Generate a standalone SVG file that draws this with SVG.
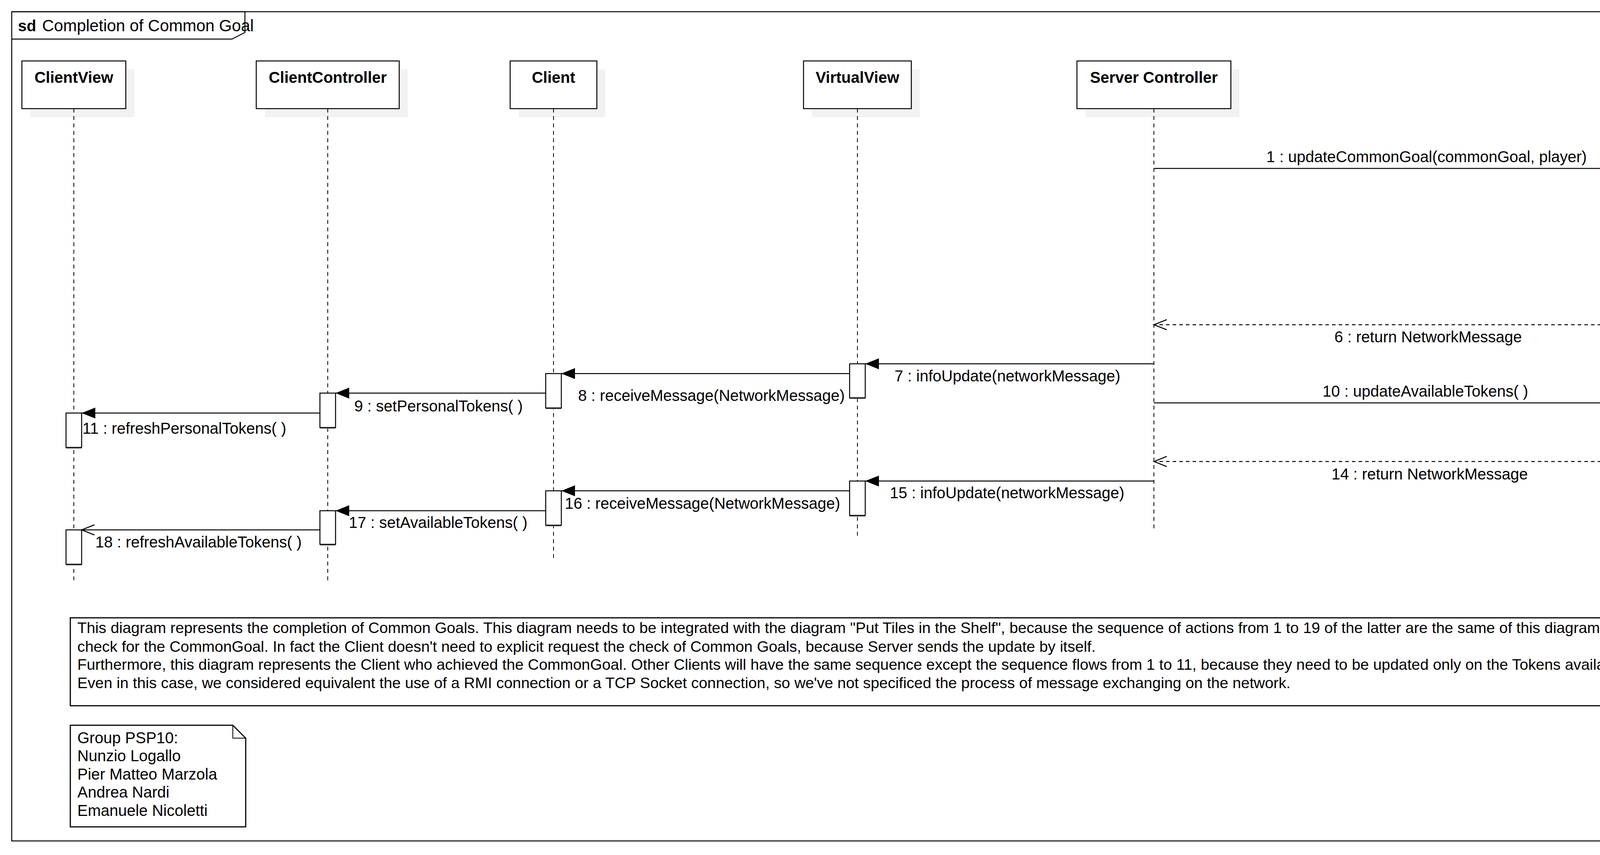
<svg xmlns="http://www.w3.org/2000/svg" width="6763" height="2188" viewBox="0 0 6763 2188">
<style>
text{font-family:"Liberation Sans",Arial,Helvetica,sans-serif;font-size:40px;fill:#000}
.b{font-weight:bold}
.m{text-anchor:middle}
.d{font-size:39.3px}
.head{fill:#fff;stroke:#000;stroke-width:2.5}
.shadow{fill:#f2f2f2;stroke:none}
.life{stroke:#000;stroke-width:2;stroke-dasharray:10 9;fill:none}
.act{fill:#fff;stroke:#000;stroke-width:2.5}
.actsh{fill:#777;stroke:none}
.call{stroke:#000;stroke-width:2.5;fill:none;marker-end:url(#filled)}
.ret{stroke:#000;stroke-width:2.5;fill:none;stroke-dasharray:9 8;marker-end:url(#open)}
.async{stroke:#000;stroke-width:2.5;fill:none;marker-end:url(#open)}
.box{fill:#fff;stroke:#000;stroke-width:3}
</style>
<defs>
<marker id="filled" markerUnits="userSpaceOnUse" viewBox="0 0 35 28" refX="35" refY="14" markerWidth="35" markerHeight="28" orient="auto"><path d="M0,0 L35,14 L0,28 Z" fill="#000"/></marker>
<marker id="open" markerUnits="userSpaceOnUse" viewBox="-3 -3 40 34" refX="33" refY="13" markerWidth="40" markerHeight="34" orient="auto" overflow="visible"><path d="M0,0 L33,13 L0,26" fill="none" stroke="#000" stroke-width="2.5"/></marker>
</defs>
<rect width="6763" height="2188" fill="#fff"/>
<g id="frame">
<rect x="30" y="30" width="6704" height="2122" fill="none" stroke="#000" stroke-width="2.5"/>
<path d="M30,30 H627 V83 L594,100 H30" fill="none" stroke="#000" stroke-width="2.5"/>
<text x="46" y="80" class="b">sd</text>
<text x="108" y="80" style="font-size:42px">Completion of Common Goal</text>
</g>
<g id="ClientView">
<rect class="shadow" x="78" y="178" width="266" height="122"/>
<rect class="head" x="56" y="156" width="266" height="122"/>
<text x="189" y="212" class="b m">ClientView</text>
<line class="life" x1="189" y1="278" x2="189" y2="1487"/>
</g>
<g id="ClientController">
<rect class="shadow" x="678" y="178" width="366" height="122"/>
<rect class="head" x="656" y="156" width="366" height="122"/>
<text x="839" y="212" class="b m">ClientController</text>
<line class="life" x1="839" y1="278" x2="839" y2="1487"/>
</g>
<g id="Client">
<rect class="shadow" x="1328" y="178" width="222" height="122"/>
<rect class="head" x="1306" y="156" width="222" height="122"/>
<text x="1417" y="212" class="b m">Client</text>
<line class="life" x1="1417" y1="278" x2="1417" y2="1435"/>
</g>
<g id="VirtualView">
<rect class="shadow" x="2079" y="178" width="276" height="122"/>
<rect class="head" x="2057" y="156" width="276" height="122"/>
<text x="2195" y="212" class="b m">VirtualView</text>
<line class="life" x1="2195" y1="278" x2="2195" y2="1378"/>
</g>
<g id="ServerController">
<rect class="shadow" x="2779" y="178" width="394" height="122"/>
<rect class="head" x="2757" y="156" width="394" height="122"/>
<text x="2954" y="212" class="b m">Server Controller</text>
<line class="life" x1="2954" y1="278" x2="2954" y2="1359"/>
</g>
<g id="GameController">
<rect class="shadow" x="4204" y="178" width="378" height="122"/>
<rect class="head" x="4182" y="156" width="378" height="122"/>
<text x="4371" y="212" class="b m">Game Controller</text>
<line class="life" x1="4371" y1="278" x2="4371" y2="1266"/>
</g>
<g id="Game">
<rect class="shadow" x="5553" y="178" width="224" height="122"/>
<rect class="head" x="5531" y="156" width="224" height="122"/>
<text x="5643" y="212" class="b m">Game</text>
<line class="life" x1="5643" y1="278" x2="5643" y2="1247"/>
</g>
<g id="PlayerController">
<rect class="shadow" x="6129" y="178" width="388" height="122"/>
<rect class="head" x="6107" y="156" width="388" height="122"/>
<text x="6301" y="212" class="b m">Player Controller</text>
<line class="life" x1="6301" y1="278" x2="6301" y2="870"/>
</g>
<g id="activations">
<rect class="actsh" x="4351" y="434" width="40" height="88"/><rect class="act" x="4351" y="431" width="40" height="88"/>
<rect class="actsh" x="5623" y="487" width="40" height="88"/><rect class="act" x="5623" y="484" width="40" height="88"/>
<rect class="actsh" x="6281" y="709" width="40" height="88"/><rect class="act" x="6281" y="706" width="40" height="88"/>
<rect class="actsh" x="2175" y="934" width="40" height="87"/><rect class="act" x="2175" y="931" width="40" height="87"/>
<rect class="actsh" x="1397" y="959" width="40" height="88"/><rect class="act" x="1397" y="956" width="40" height="88"/>
<rect class="actsh" x="819" y="1009" width="40" height="88"/><rect class="act" x="819" y="1006" width="40" height="88"/>
<rect class="actsh" x="4351" y="1034" width="40" height="87"/><rect class="act" x="4351" y="1031" width="40" height="87"/>
<rect class="actsh" x="169" y="1060" width="40" height="88"/><rect class="act" x="169" y="1057" width="40" height="88"/>
<rect class="actsh" x="5623" y="1060" width="40" height="87"/><rect class="act" x="5623" y="1057" width="40" height="87"/>
<rect class="actsh" x="2175" y="1234" width="40" height="88"/><rect class="act" x="2175" y="1231" width="40" height="88"/>
<rect class="actsh" x="1397" y="1259" width="40" height="88"/><rect class="act" x="1397" y="1256" width="40" height="88"/>
<rect class="actsh" x="819" y="1310" width="40" height="86"/><rect class="act" x="819" y="1307" width="40" height="86"/>
<rect class="actsh" x="169" y="1359" width="40" height="88"/><rect class="act" x="169" y="1356" width="40" height="88"/>
</g>
<g id="connectors">
<path class="call" d="M2954,431 H4351"/>
<path class="call" d="M4391,484 H5623"/>
<path class="ret" d="M5623,532 H4371"/>
<path class="call" d="M4371,706 H6281"/>
<path class="ret" d="M6281,765 H4371"/>
<path class="ret" d="M4371,831 H2954"/>
<path class="call" d="M2954,931 H2215"/>
<path class="call" d="M2175,956 H1437"/>
<path class="call" d="M1397,1006 H859"/>
<path class="call" d="M2954,1031 H4351"/>
<path class="call" d="M819,1057 H209"/>
<path class="call" d="M4391,1057 H5623"/>
<path class="ret" d="M5643,1157 H4371"/>
<path class="ret" d="M4371,1181 H2954"/>
<path class="call" d="M2954,1231 H2215"/>
<path class="call" d="M2175,1256 H1437"/>
<path class="call" d="M1397,1307 H859"/>
<path class="async" d="M819,1356 H209"/>
</g>
<g id="labels">
<text x="3652" y="415" class="m">1 : updateCommonGoal(commonGoal, player)</text>
<text x="5006" y="467" class="m">2 : updateToken(commonGoal, playerShelf, player)</text>
<text x="4992" y="577" class="m">3 : outcome text</text>
<text x="5322" y="692" class="m">4 : getPlayerTokens( )</text>
<text x="5320" y="809" class="m">5 : return ArrayList of Tokens</text>
<text x="3656" y="876" class="m">6 : return NetworkMessage</text>
<text x="2290" y="976">7 : infoUpdate(networkMessage)</text>
<text x="1480" y="1026">8 : receiveMessage(NetworkMessage)</text>
<text x="907" y="1053">9 : setPersonalTokens( )</text>
<text x="3649" y="1015" class="m">10 : updateAvailableTokens( )</text>
<text x="211" y="1110">11 : refreshPersonalTokens( )</text>
<text x="5003" y="1115" class="m">12 : getAvailableTokens( )</text>
<text x="5003" y="1202" class="m">13 : return ArrayList of Tokens</text>
<text x="3660" y="1227" class="m">14 : return NetworkMessage</text>
<text x="2278" y="1275">15 : infoUpdate(networkMessage)</text>
<text x="1446" y="1302">16 : receiveMessage(NetworkMessage)</text>
<text x="893" y="1351">17 : setAvailableTokens( )</text>
<text x="244" y="1401">18 : refreshAvailableTokens( )</text>
</g>
<g id="description">
<rect class="box" x="180" y="1581" width="5297" height="225"/>
<text x="198" y="1620" class="d">This diagram represents the completion of Common Goals. This diagram needs to be integrated with the diagram "Put Tiles in the Shelf", because the sequence of actions from 1 to 19 of the latter are the same of this diagram (we omitted here to semplify the diagram) due to the automatic</text>
<text x="198" y="1668" class="d">check for the CommonGoal. In fact the Client doesn't need to explicit request the check of Common Goals, because Server sends the update by itself.</text>
<text x="198" y="1714" class="d">Furthermore, this diagram represents the Client who achieved the CommonGoal. Other Clients will have the same sequence except the sequence flows from 1 to 11, because they need to be updated only on the Tokens available (we omitted for redundancy).</text>
<text x="198" y="1761" class="d">Even in this case, we considered equivalent the use of a RMI connection or a TCP Socket connection, so we've not specificed the process of message exchanging on the network.</text>
</g>
<g id="note">
<path d="M180,1856 H596 L629,1889 V2116 H180 Z" fill="#fff" stroke="#000" stroke-width="3"/>
<path d="M596,1856 V1889 H629" fill="none" stroke="#000" stroke-width="2"/>
<text x="198" y="1902">Group PSP10:</text>
<text x="198" y="1948">Nunzio Logallo</text>
<text x="198" y="1995">Pier Matteo Marzola</text>
<text x="198" y="2041">Andrea Nardi</text>
<text x="198" y="2088">Emanuele Nicoletti</text>
</g>
</svg>
